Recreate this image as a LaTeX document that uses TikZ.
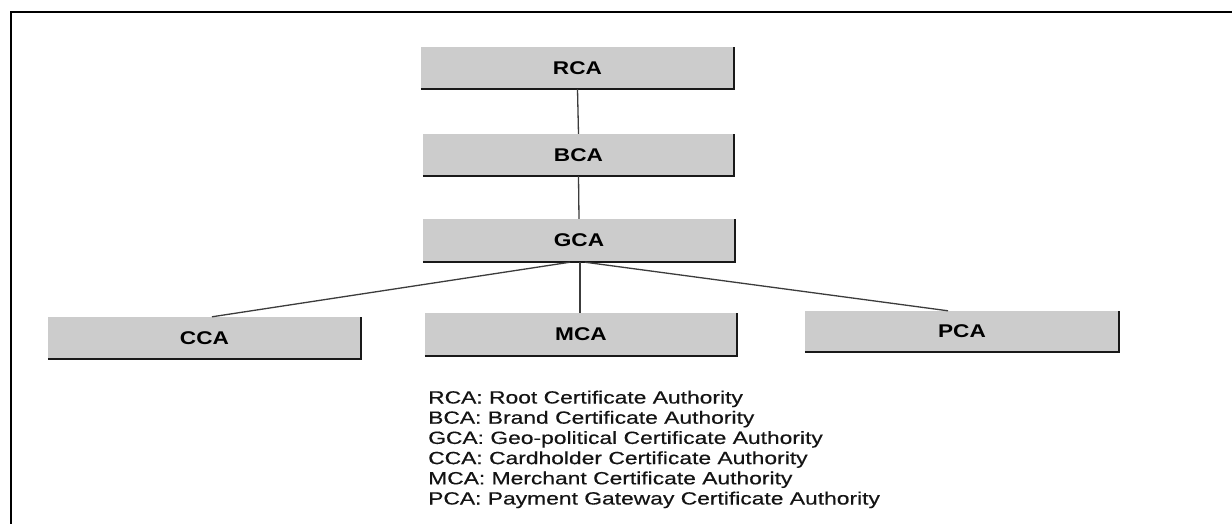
\documentclass[tikz,border=0pt]{standalone}
\usepackage{fontspec}
\setmainfont{Liberation Sans}
\newfontfamily\boxfont[FakeStretch=1.23]{Liberation Sans}
\newfontfamily\legendfont[FakeStretch=1.29,FakeBold=0.4]{Liberation Sans}
\definecolor{boxgray}{RGB}{204,204,204}
\definecolor{edgedark}{RGB}{25,25,25}
\definecolor{linkgray}{RGB}{60,60,60}
\begin{document}
\begin{tikzpicture}[x=1pt,y=-1pt,
  ca/.style={fill=boxgray, draw=none, inner sep=0pt,
    font=\boxfont\bfseries\fontsize{18.4}{20}\selectfont, text=black},
  link/.style={draw=linkgray, line width=1.3pt},
  shadowedge/.style={draw=edgedark, line width=2.2pt},
  legendtext/.style={anchor=north west, inner sep=0pt, align=left,
    font=\legendfont\fontsize{17.7}{20.2}\selectfont, text=black!92}]
  \useasboundingbox (0,0) rectangle (1232,524);
  \clip (0,0) rectangle (1232,524);
  \fill[white] (0,0) rectangle (1232,524);

  % outer frame (top and left rules)
  \draw[line width=2.6pt, black] (11,530) -- (11,12) -- (1240,12);

  % certificate authority boxes
  \node[ca, minimum width=313pt, minimum height=42pt] (RCA) at (577.5,68) {RCA};
  \node[ca, minimum width=311pt, minimum height=42pt] (BCA) at (578.5,155) {BCA};
  \node[ca, minimum width=312pt, minimum height=43pt] (GCA) at (579,240.5) {GCA};
  \node[ca, minimum width=313pt, minimum height=42pt] (CCA) at (204.5,338) {CCA};
  \node[ca, minimum width=312pt, minimum height=43pt] (MCA) at (581,334.5) {MCA};
  \node[ca, minimum width=314pt, minimum height=41pt] (PCA) at (962,331.5) {PCA};

  % dark bottom and right edges of each box
  \foreach \n in {RCA,BCA,GCA,CCA,MCA,PCA}{
    \draw[shadowedge] (\n.south west) -- (\n.south east) -- (\n.north east);
  }

  % hierarchy connectors
  \draw[link] (RCA.south) -- (BCA.north);
  \draw[link] (BCA.south) -- (GCA.north);
  \draw[link] ([xshift=1pt]GCA.south) -- ([xshift=-1pt]MCA.north);
  \draw[link] ([xshift=-9pt]GCA.south) -- ([xshift=7.5pt]CCA.north);
  \draw[link] ([xshift=6pt]GCA.south) -- ([xshift=-14pt]PCA.north);

  % abbreviations
  \node[legendtext] (legend) at (428,390.5) {%
    RCA: Root Certificate Authority\\
    BCA: Brand Certificate Authority\\
    GCA: Geo-political Certificate Authority\\
    CCA: Cardholder Certificate Authority\\
    MCA: Merchant Certificate Authority\\
    PCA: Payment Gateway Certificate Authority};
\end{tikzpicture}
\end{document}
